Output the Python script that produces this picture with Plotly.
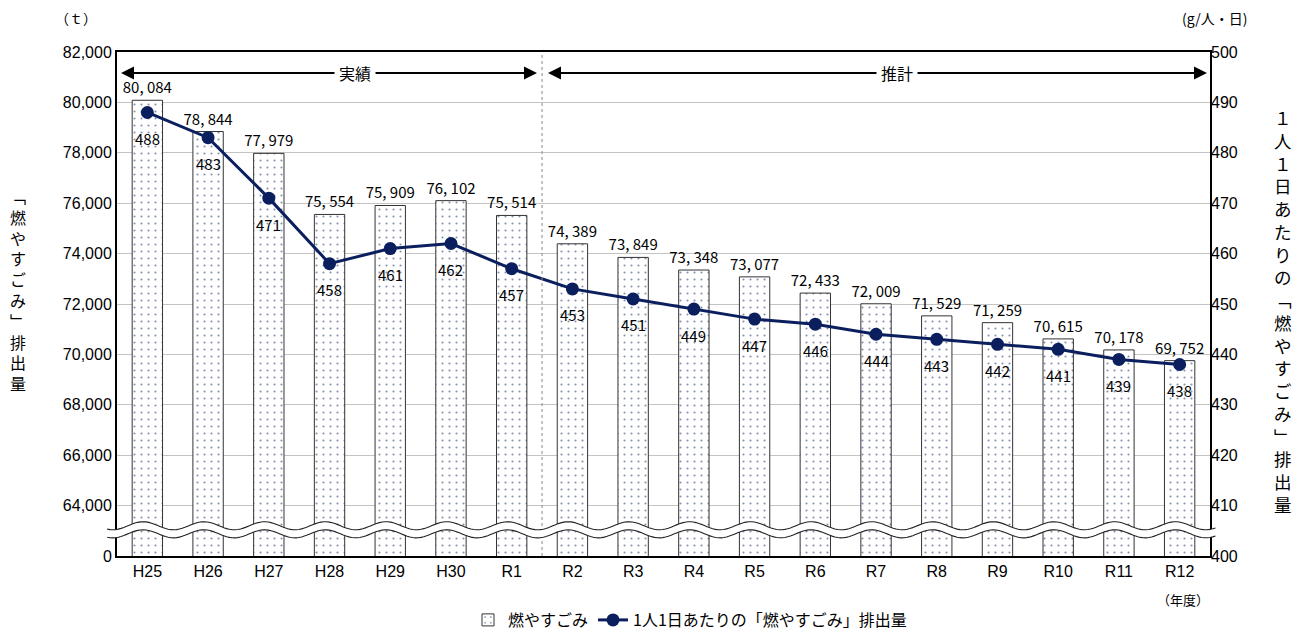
import numpy as np
import plotly.graph_objects as go

categories = ["H25", "H26", "H27", "H28", "H29", "H30", "R1", "R2", "R3", "R4",
              "R5", "R6", "R7", "R8", "R9", "R10", "R11", "R12"]
waste_t = [80084, 78844, 77979, 75554, 75909, 76102, 75514, 74389, 73849, 73348,
           73077, 72433, 72009, 71529, 71259, 70615, 70178, 69752]
per_capita = [488, 483, 471, 458, 461, 462, 457, 453, 451, 449,
              447, 446, 444, 443, 442, 441, 439, 438]
left_ticks = [62000, 64000, 66000, 68000, 70000, 72000, 74000, 76000, 78000, 80000, 82000]
left_ticktext = ["0", "64,000", "66,000", "68,000", "70,000", "72,000", "74,000",
                 "76,000", "78,000", "80,000", "82,000"]

NAVY = "#0b1f5e"
JP = "Noto Sans CJK JP"
SANS = "Liberation Sans, Arial, sans-serif"

L, R, T, B = 117, 1210, 52, 556
Wp = float(R - L)
Hp = float(B - T)

def px(p):
    return (p - L) / Wp

def py(p):
    return (B - p) / Hp

fig = go.Figure()

fig.add_trace(go.Bar(
    x=categories, y=waste_t, name="燃やすごみ",
    marker=dict(color="white", line=dict(color="#333333", width=1),
                pattern=dict(shape=".", fgcolor=NAVY, bgcolor="white", size=7, solidity=0.07)),
    text=[f"{v:,}".replace(",", ", ") for v in waste_t],
    textposition="outside", cliponaxis=False, constraintext="none",
    textfont=dict(family=JP, size=15, color="black"),
    width=0.5,
))

fig.add_trace(go.Scatter(
    x=categories, y=per_capita, name="1人1日あたりの「燃やすごみ」排出量",
    yaxis="y2", mode="lines+markers",
    line=dict(color=NAVY, width=3), marker=dict(color=NAVY, size=13),
))

annotations = []
for c, v in zip(categories, per_capita):
    annotations.append(dict(x=c, y=v, xref="x", yref="y2", text=str(v), showarrow=False,
                            yshift=-26, font=dict(family=JP, size=15, color="black")))

# Period arrows
arrow_y = 81170
for head, tail in [(121, 355), (537, 355), (548, 897), (1207, 897)]:
    annotations.append(dict(x=px(head), y=arrow_y, xref="paper", yref="y", text="",
                            showarrow=True, ax=tail - head, ay=0, axref="pixel", ayref="pixel",
                            arrowhead=2, arrowsize=1.3, arrowwidth=2, arrowcolor="black"))
for cx, t in [(355, "実績"), (897, "推計")]:
    annotations.append(dict(x=px(cx), y=arrow_y, xref="paper", yref="y", text=t,
                            showarrow=False, bgcolor="white", borderpad=4, xanchor="center",
                            font=dict(family=JP, size=16, color="black")))

# Units and axis titles
annotations.append(dict(x=px(76), y=py(18), xref="paper", yref="paper", text="（ｔ）",
                        showarrow=False, xanchor="center", yanchor="middle",
                        font=dict(family=JP, size=14, color="black")))
annotations.append(dict(x=px(1215), y=py(18), xref="paper", yref="paper", text="(g/人・日)",
                        showarrow=False, xanchor="center", yanchor="middle",
                        font=dict(family=JP, size=14, color="black")))
left_title = "﹁燃やすごみ﹂排出量"
right_title = "１人１日あたりの﹁燃やすごみ﹂排出量"
annotations.append(dict(x=px(18), y=py(289), xref="paper", yref="paper",
                        text="<br>".join(left_title), showarrow=False,
                        xanchor="center", yanchor="middle",
                        font=dict(family=JP, size=16, color="black")))
annotations.append(dict(x=px(1283), y=py(311), xref="paper", yref="paper",
                        text="<br>".join(right_title), showarrow=False,
                        xanchor="center", yanchor="middle",
                        font=dict(family=JP, size=17.5, color="black")))
annotations.append(dict(x=px(1183), y=py(599), xref="paper", yref="paper",
                        text="（年度）", showarrow=False, xanchor="center", yanchor="middle",
                        font=dict(family=JP, size=13, color="black")))

shapes = []
# dotted separator between R1 and R2
shapes.append(dict(type="line", xref="paper", yref="paper", x0=7 / 18, x1=7 / 18, y0=0, y1=1,
                   line=dict(color="#888888", width=1, dash="dot")))

# axis-break wave band
xs = np.linspace(-0.009, 1.005, 400)
period = 1 / 18
amp = 160
yc_top = 63200
wave = amp * np.sin(2 * np.pi * (xs - 0.01) / period)
top = yc_top + wave
bot = yc_top - 320 + wave
def pts(xa, ya):
    return " L".join(f"{x:.5f},{y:.1f}" for x, y in zip(xa, ya))
band = "M" + pts(xs, top) + " L" + pts(xs[::-1], bot[::-1]) + " Z"
shapes.append(dict(type="path", xref="paper", yref="y", path=band,
                   fillcolor="white", line=dict(width=0), layer="above"))
for arr in (top, bot):
    shapes.append(dict(type="path", xref="paper", yref="y", path="M" + pts(xs, arr),
                       line=dict(color="#222222", width=1.1), layer="above"))

fig.update_layout(
    width=1298, height=631,
    margin=dict(l=L, r=1298 - R, t=T, b=631 - B, autoexpand=False),
    plot_bgcolor="white", paper_bgcolor="white",
    bargap=0.5,
    showlegend=True,
    legend=dict(orientation="h", x=px(690), xanchor="center", y=py(620), yanchor="middle",
                font=dict(family=JP, size=16, color="black"), traceorder="normal"),
    xaxis=dict(range=[-0.5, len(categories) - 0.5],
               showline=True, linecolor="black", linewidth=2, mirror=True, automargin=False,
               tickfont=dict(family=SANS, size=16, color="black"), ticks=""),
    yaxis=dict(range=[62000, 82000], tickvals=left_ticks, ticktext=left_ticktext,
               showgrid=True, gridcolor="#c4c4c4", gridwidth=1, automargin=False,
               showline=True, linecolor="black", linewidth=2, mirror=True, ticks="",
               tickfont=dict(family=SANS, size=16, color="black"), zeroline=False),
    yaxis2=dict(range=[400, 500], dtick=10, overlaying="y", side="right", showgrid=False,
                automargin=False,
                tickfont=dict(family=SANS, size=16, color="black"), ticks="", zeroline=False),
    annotations=annotations,
    shapes=shapes,
)

fig.write_html("out.html", config={"displayModeBar": False},
               post_script="document.body.style.margin='0';document.body.style.overflow='hidden';")
